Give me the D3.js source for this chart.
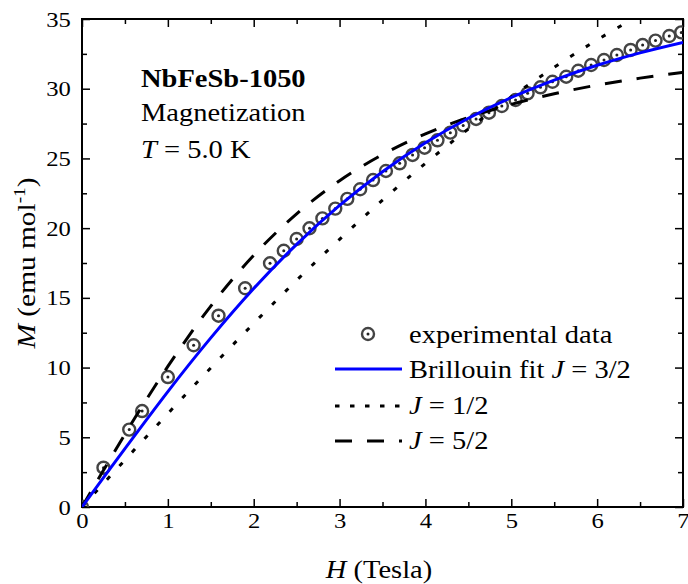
<!DOCTYPE html>
<html>
<head>
<meta charset="utf-8">
<script src="https://cdn.jsdelivr.net/npm/d3@7"></script>
<style>
	body { margin: 0; background: #fff; }
	svg text { font-family: "Liberation Serif", "Times New Roman", serif; fill: #000; }
</style>
</head>
<body>
<div id="graph"></div>
<script>
/* ===== data ===== */

// experimental points: field (T) and magnetization (emu/mol)
var expH = [0, 0.25, 0.55, 0.70, 1.00, 1.30, 1.59, 1.90, 2.19, 2.35, 2.50, 2.65, 2.80, 2.95, 3.09,
	3.24, 3.39, 3.54, 3.70, 3.85, 3.99, 4.14, 4.29, 4.44, 4.59, 4.74, 4.89, 5.05, 5.19, 5.34,
	5.48, 5.64, 5.78, 5.93, 6.08, 6.23, 6.39, 6.53, 6.68, 6.84, 6.98];
var expM = [0, 2.82, 5.55, 6.88, 9.32, 11.6, 13.72, 15.69, 17.48, 18.38, 19.22, 19.99, 20.7, 21.4, 22.1,
	22.79, 23.45, 24.1, 24.65, 25.25, 25.77, 26.3, 26.85, 27.37, 27.83, 28.28, 28.76, 29.19, 29.67, 30.1,
	30.5, 30.86, 31.29, 31.7, 32.06, 32.42, 32.78, 33.13, 33.45, 33.78, 34.04];

// fit curves sampled along H
var fitH   = [0, 0.25, 0.5, 0.75, 1, 1.5, 2, 2.5, 3, 3.5, 4, 4.5, 5, 5.5, 6, 6.5, 7];
var fitJ32 = [0, 2.11, 4.19, 6.25, 8.28, 12.13, 15.67, 18.84, 21.63, 24.05, 26.12, 27.88, 29.37, 30.62, 31.68, 32.57, 33.32];
var fitJ12 = [0, 1.69, 3.37, 5.04, 6.70, 9.98, 13.17, 16.26, 19.20, 22.01, 24.65, 27.11, 29.41, 31.54, 33.50, 35.28, 36.91];
var fitJ52 = [0, 2.63, 5.22, 7.71, 10.08, 14.41, 18.05, 21.02, 23.40, 25.27, 26.76, 27.94, 28.88, 29.64, 30.26, 30.76, 31.18];

var xMajor = [0, 1, 2, 3, 4, 5, 6, 7];
var yMajor = [0, 5, 10, 15, 20, 25, 30, 35];

/* ===== layout ===== */
var SVGwidth = 688, SVGheight = 584,
	margin = {top: 19, right: 5, bottom: 77, left: 82},
	width = SVGwidth - margin.left - margin.right,
	height = SVGheight - margin.top - margin.bottom;

var SX = 1.14;   // the original's lettering is slightly wide

var svg = d3.select('div#graph').append('svg')
	.attr('width', SVGwidth)
	.attr('height', SVGheight);

svg.append("rect").attr("width", SVGwidth).attr("height", SVGheight).attr("fill", "#fff");

var g = svg.append("g").attr("transform", "translate(" + margin.left + "," + margin.top + ")");

var x = d3.scaleLinear().domain([0, 7]).range([0, width]);
var y = d3.scaleLinear().domain([0, 35]).range([height, 0]);

svg.append("defs").append("clipPath").attr("id", "plotClip")
	.append("rect").attr("width", width).attr("height", height);

/* ===== axes ===== */
var xMinor = d3.range(0.5, 7, 1), yMinor = d3.range(2.5, 35, 5);

function styleAxis(sel) {
	sel.select(".domain").remove();
	sel.selectAll("line").attr("stroke", "#000").attr("stroke-width", 1.5);
}

g.append("g").attr("transform", "translate(0," + height + ")")
	.call(d3.axisBottom(x).tickValues(xMajor).tickSize(-8).tickPadding(5).tickFormat(d3.format("d")))
	.call(styleAxis)
	.selectAll("text").attr("font-size", 22).attr("transform", "scale(1.12,1)");
g.append("g").attr("transform", "translate(0," + height + ")")
	.call(d3.axisBottom(x).tickValues(xMinor).tickSize(-5).tickFormat(""))
	.call(styleAxis);

g.append("g")
	.call(d3.axisLeft(y).tickValues(yMajor).tickSize(-8).tickPadding(10).tickFormat(d3.format("d")))
	.call(styleAxis)
	.selectAll("text").attr("font-size", 22).attr("transform", "scale(1.12,1)");
g.append("g")
	.call(d3.axisLeft(y).tickValues(yMinor).tickSize(-5).tickFormat(""))
	.call(styleAxis);

// mirrored ticks on top and right
g.append("g").call(d3.axisTop(x).tickValues(xMajor).tickSize(-8).tickFormat("")).call(styleAxis);
g.append("g").call(d3.axisTop(x).tickValues(xMinor).tickSize(-5).tickFormat("")).call(styleAxis);
g.append("g").attr("transform", "translate(" + width + ",0)")
	.call(d3.axisRight(y).tickValues(yMajor).tickSize(-8).tickFormat("")).call(styleAxis);
g.append("g").attr("transform", "translate(" + width + ",0)")
	.call(d3.axisRight(y).tickValues(yMinor).tickSize(-5).tickFormat("")).call(styleAxis);

g.append("rect")
	.attr("width", width).attr("height", height)
	.attr("fill", "none").attr("stroke", "#000").attr("stroke-width", 2);

/* ===== marks ===== */
var expData = expH.map(function(h, i) { return {H: h, M: expM[i]}; });
function fitData(vals) { return fitH.map(function(h, i) { return {H: h, M: vals[i]}; }); }

var line = d3.line()
	.curve(d3.curveMonotoneX)
	.x(function(d) { return x(d.H); })
	.y(function(d) { return y(d.M); });

var plot = g.append("g").attr("clip-path", "url(#plotClip)");

function marker(sel) {
	sel.append("circle").attr("r", 6).attr("fill", "none").attr("stroke", "#444").attr("stroke-width", 2.4);
	sel.append("circle").attr("r", 1.5).attr("fill", "#222");
}

plot.selectAll("g.pt")
	.data(expData)
	.enter().append("g")
	.attr("class", "pt")
	.attr("transform", function(d) { return "translate(" + x(d.H) + "," + y(d.M) + ")"; })
	.call(marker);

plot.append("path").datum(fitData(fitJ12))
	.attr("fill", "none").attr("stroke", "#000").attr("stroke-width", 3)
	.attr("stroke-dasharray", "4.5,14").attr("d", line);

plot.append("path").datum(fitData(fitJ52))
	.attr("fill", "none").attr("stroke", "#000").attr("stroke-width", 3)
	.attr("stroke-dasharray", "17,15").attr("d", line);

plot.append("path").datum(fitData(fitJ32))
	.attr("fill", "none").attr("stroke", "#0000ff").attr("stroke-width", 3)
	.attr("d", line);

/* ===== text ===== */
function label(px, py, size) {
	return svg.append("text")
		.attr("transform", "translate(" + px + "," + py + ") scale(" + SX + ",1)")
		.attr("font-size", size);
}

label(141, 87, 25).attr("font-weight", "bold").text("NbFeSb-1050");
label(141, 121, 25).text("Magnetization");
var t3 = label(141, 158, 25);
t3.append("tspan").attr("font-style", "italic").text("T");
t3.append("tspan").text(" = 5.0 K");

// axis titles
var xt = label(379, 578, 25).attr("text-anchor", "middle");
xt.append("tspan").attr("font-style", "italic").text("H");
xt.append("tspan").text(" (Tesla)");

var yt = svg.append("text")
	.attr("transform", "translate(35," + (margin.top + height / 2) + ") rotate(-90) scale(1.13,1)")
	.attr("font-size", 26)
	.attr("text-anchor", "middle");
yt.append("tspan").attr("font-style", "italic").text("M");
yt.append("tspan").text(" (emu mol");
yt.append("tspan").attr("font-size", 17).attr("dy", -10).text("-1");
yt.append("tspan").attr("dy", 10).text(")");

/* ===== legend ===== */
var legX0 = 335, legX1 = 402, legTx = 409;
var leg = svg.append("g");

leg.append("g").attr("transform", "translate(368,334)").call(marker);
label(legTx, 343, 25).text("experimental data");

leg.append("line").attr("x1", legX0).attr("x2", legX1).attr("y1", 369).attr("y2", 369)
	.attr("stroke", "#0000ff").attr("stroke-width", 3);
var l2 = label(legTx, 378, 25);
l2.append("tspan").text("Brillouin fit ");
l2.append("tspan").attr("font-style", "italic").text("J");
l2.append("tspan").text(" = 3/2");

leg.append("line").attr("x1", legX0).attr("x2", legX1).attr("y1", 406).attr("y2", 406)
	.attr("stroke", "#000").attr("stroke-width", 3).attr("stroke-dasharray", "4.5,10.5");
var l3 = label(legTx, 414, 25);
l3.append("tspan").attr("font-style", "italic").text("J");
l3.append("tspan").text(" = 1/2");

leg.append("line").attr("x1", legX0).attr("x2", legX1).attr("y1", 441).attr("y2", 441)
	.attr("stroke", "#000").attr("stroke-width", 3).attr("stroke-dasharray", "17,15");
var l4 = label(legTx, 449, 25);
l4.append("tspan").attr("font-style", "italic").text("J");
l4.append("tspan").text(" = 5/2");
</script>
</body>
</html>
